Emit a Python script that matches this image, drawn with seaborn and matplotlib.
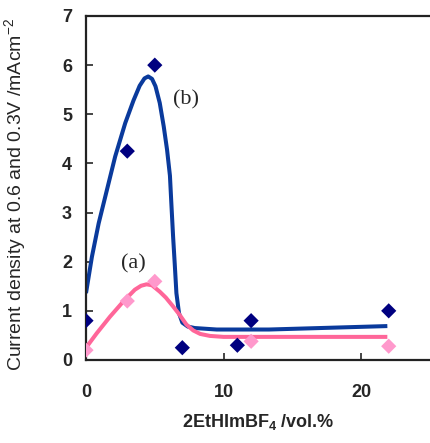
import numpy as np
import pandas as pd
import matplotlib
matplotlib.use('Agg')
import matplotlib.pyplot as plt
import seaborn as sns

# measured points
conc_b = [0, 3, 5, 7, 11, 12, 22]
cur_b = [0.8, 4.25, 6.0, 0.25, 0.3, 0.8, 1.0]
conc_a = [0, 3, 5, 12, 22]
cur_a = [0.2, 1.2, 1.6, 0.38, 0.28]

# hand-drawn guide curves
curve_b_x = [0, 0.43, 0.92, 1.52, 2.12, 2.85, 3.45, 3.9, 4.25, 4.52, 4.8, 5.05, 5.36, 5.65,
             5.89, 6.1, 6.2, 6.33, 6.45, 6.57, 6.76, 7.0, 7.4, 7.9, 9.5, 13.3, 17.0, 21.9]
curve_b_y = [1.36, 2.10, 2.78, 3.46, 4.14, 4.82, 5.28, 5.58, 5.73, 5.77, 5.72, 5.57, 5.23, 4.75,
             4.28, 3.75, 3.2, 2.51, 1.95, 1.36, 0.95, 0.76, 0.68, 0.65, 0.62, 0.62, 0.65, 0.69]
curve_a_x = [0, 0.77, 1.74, 2.71, 3.55, 4.0, 4.4, 4.8, 5.36, 5.8, 6.3, 6.8, 7.3, 7.8,
             8.3, 9.0, 10.0, 14.0, 21.9]
curve_a_y = [0.25, 0.54, 0.88, 1.19, 1.43, 1.51, 1.54, 1.52, 1.39, 1.27, 1.10, 0.92, 0.72,
             0.60, 0.53, 0.49, 0.47, 0.47, 0.47]

sns.set_theme(style="ticks")
plt.rcParams['font.family'] = ['Liberation Sans', 'DejaVu Sans']
plt.rcParams['mathtext.fontset'] = 'custom'
plt.rcParams['mathtext.rm'] = 'Liberation Sans'
plt.rcParams['mathtext.it'] = 'Liberation Sans'
plt.rcParams['mathtext.bf'] = 'Liberation Sans:bold'

fig = plt.figure(figsize=(4.30, 4.43), dpi=100)
ax = fig.add_axes([0.2, 0.1874, 0.8, 0.7765])

blue_line = '#0A3A9C'
pink_line = '#FF6699'

line_kw = dict(sort=False, estimator=None, linewidth=2.9, ax=ax, zorder=2,
               solid_capstyle='butt', solid_joinstyle='round')
sns.lineplot(x=curve_b_x, y=curve_b_y, color=blue_line, **line_kw)
sns.lineplot(x=curve_a_x, y=curve_a_y, color=pink_line, **line_kw)
sns.scatterplot(x=conc_b, y=cur_b, marker='D', s=60, color='#000080', edgecolor='none',
                ax=ax, zorder=3)
sns.scatterplot(x=conc_a, y=cur_a, marker='D', s=60, color='#FF99CC', edgecolor='none',
                ax=ax, zorder=3)

ax.text(7.3, 5.3, '(b)', family='Liberation Serif', fontsize=16, ha='center', va='center')
ax.text(3.44, 1.96, '(a)', family='Liberation Serif', fontsize=16, ha='center', va='center')

ax.set_xlim(0, 25)
ax.set_ylim(0, 7)
ax.set_xticks([0, 10, 20])
ax.set_yticks(range(0, 8))
ax.tick_params(axis='both', direction='in', length=5, width=1.2, labelsize=13)
ax.tick_params(axis='x', pad=17)
ax.tick_params(axis='y', pad=10)
for lab in ax.get_xticklabels() + ax.get_yticklabels():
    lab.set_fontweight('bold')

for s in ['left', 'bottom', 'top']:
    ax.spines[s].set_linewidth(1.6)
    ax.spines[s].set_color('#222222')
ax.spines['right'].set_visible(False)

ax.set_xlabel('2EtHImBF$_\\mathbf{4}$ /vol.%', fontsize=13, fontweight='bold')
ax.set_ylabel('Current density at 0.6 and 0.3V /mAcm$^{-2}$', fontsize=14)
ax.xaxis.set_label_coords(0.5, -0.15)
ax.yaxis.set_label_coords(-0.17, 0.48)

fig.savefig('out.png', dpi=100)
